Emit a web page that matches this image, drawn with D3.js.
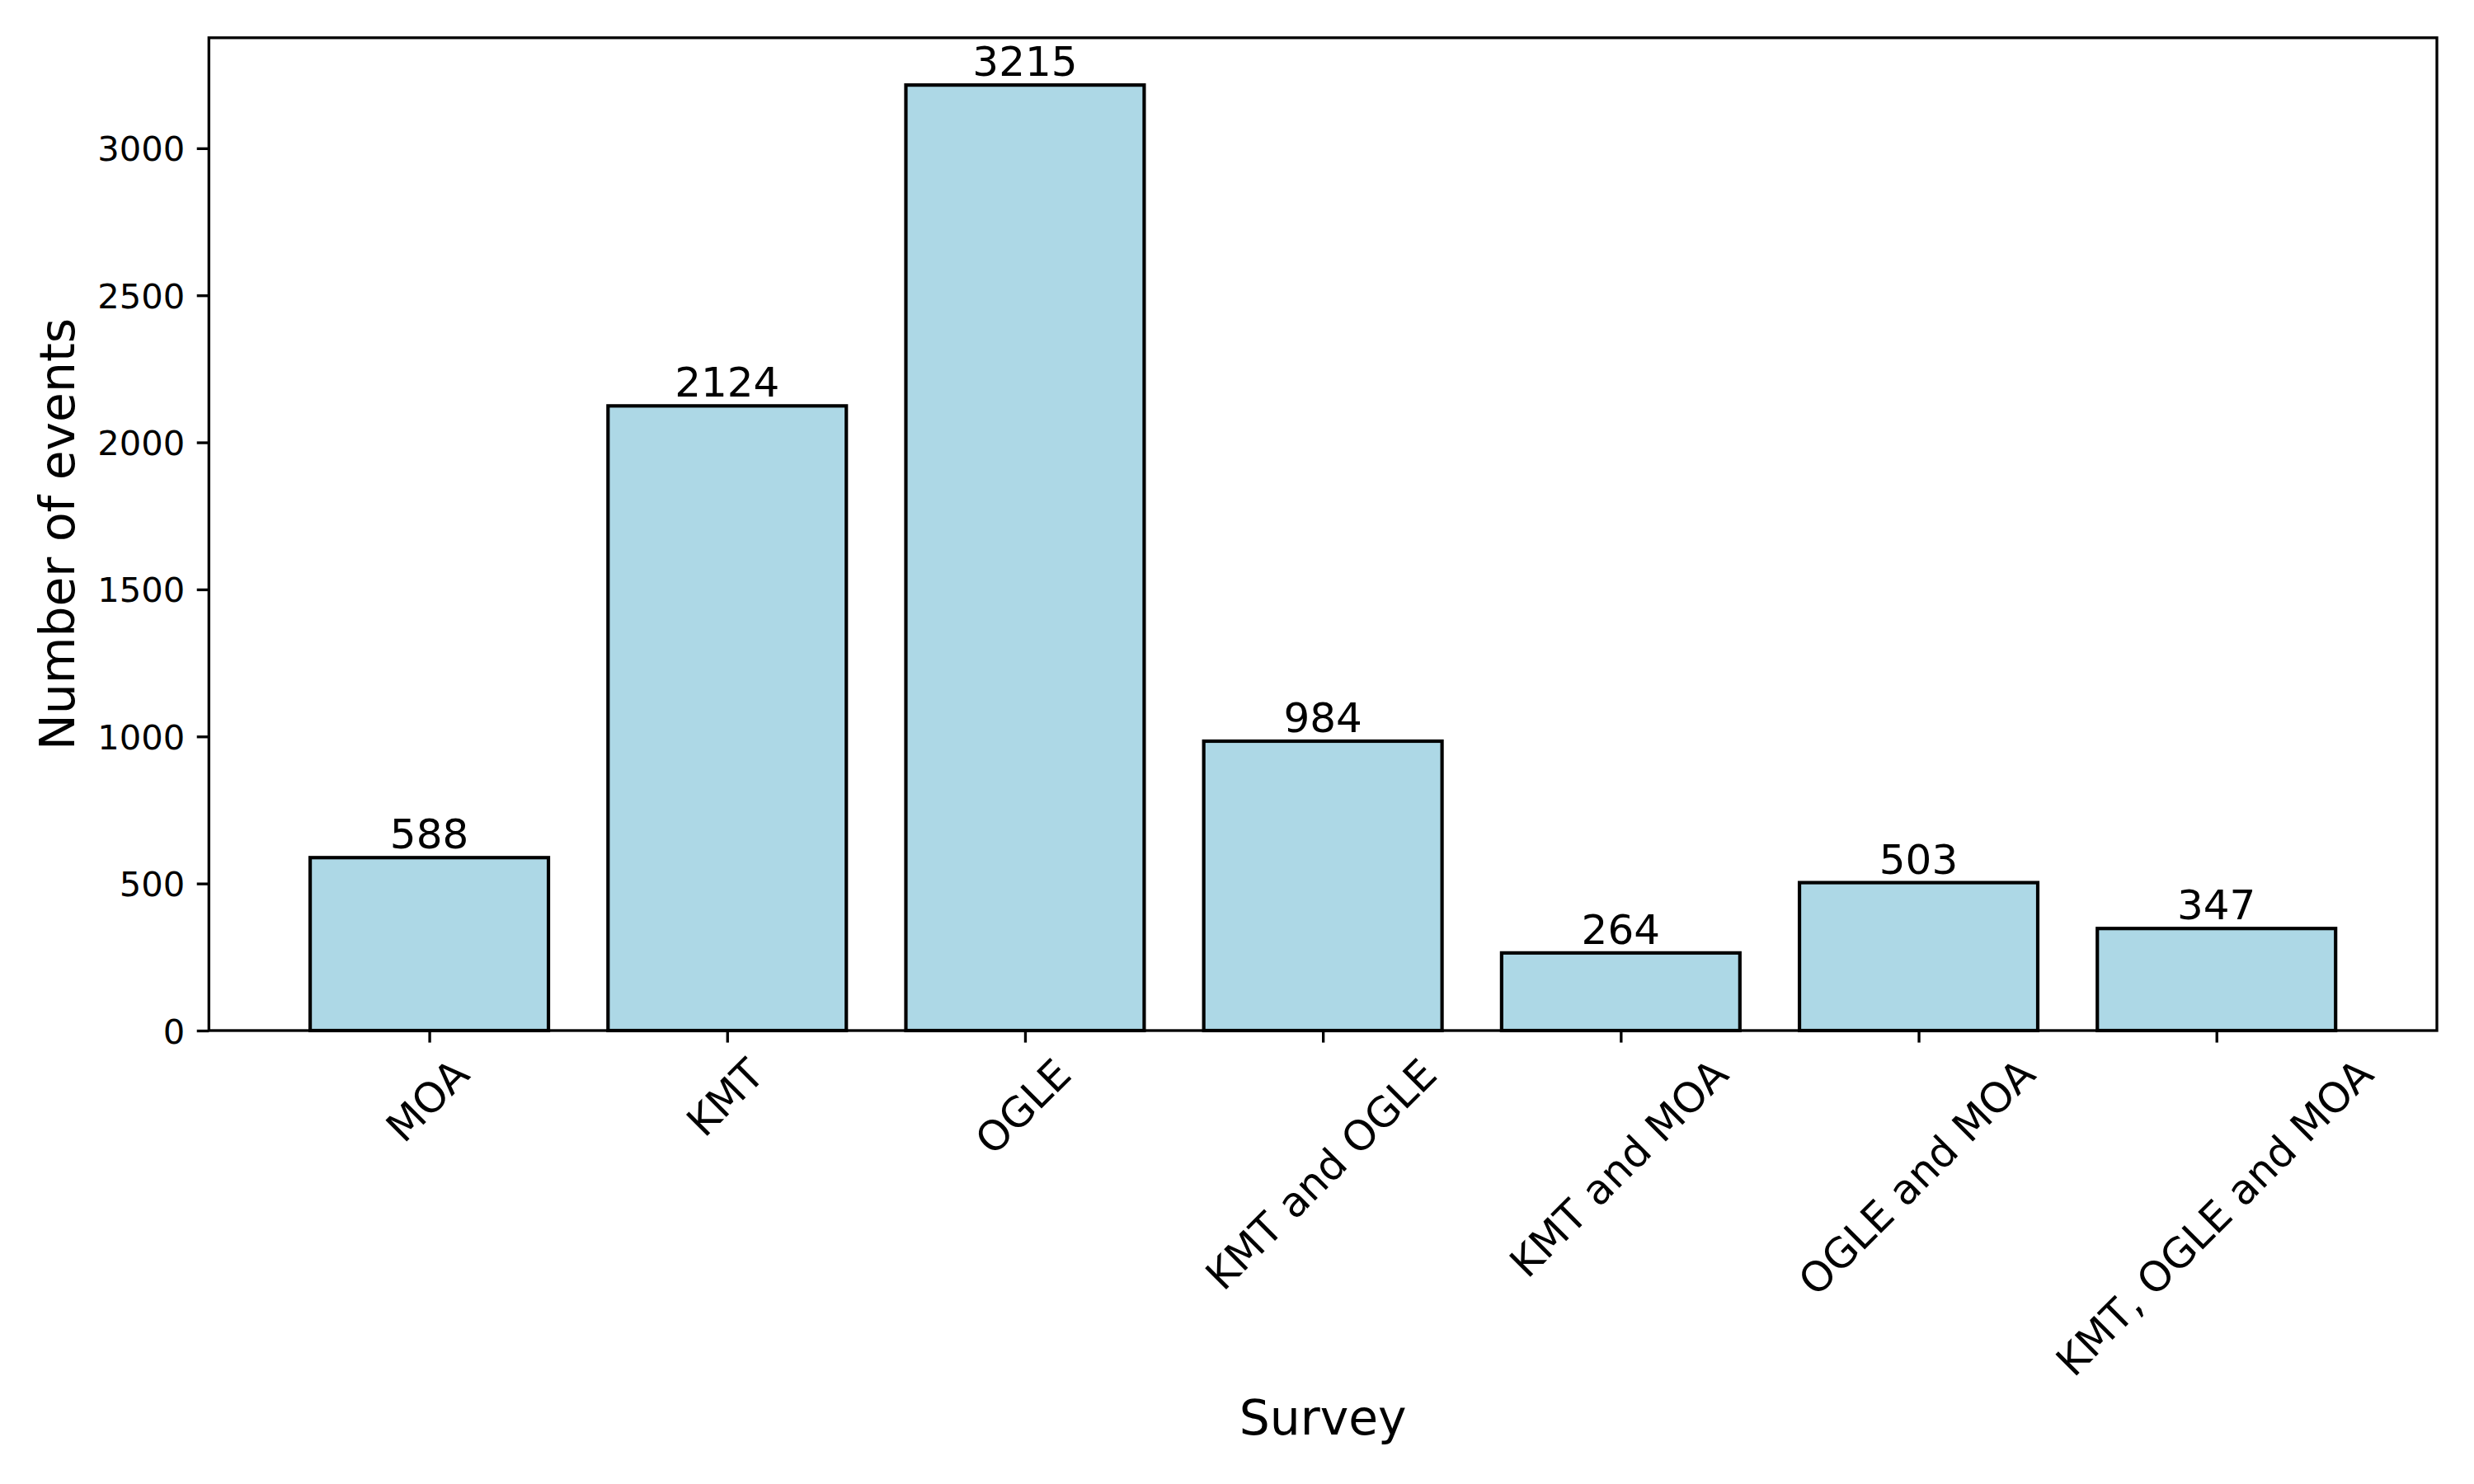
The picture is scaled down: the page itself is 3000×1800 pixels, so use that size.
<!DOCTYPE html>
<html><head><meta charset="utf-8">
<script src="https://cdn.jsdelivr.net/npm/d3@7"></script>
<style>
body{margin:0;background:#fff}
text{font-family:"DejaVu Sans",sans-serif;fill:#000}
</style>
</head><body><svg id="chart" width="3000" height="1800"></svg>
<script>
// ---- data ----
const categories = ["MOA", "KMT", "OGLE", "KMT and OGLE", "KMT and MOA", "OGLE and MOA", "KMT, OGLE and MOA"];
const values = [588, 2124, 3215, 984, 264, 503, 347];
const yTickValues = [0, 500, 1000, 1500, 2000, 2500, 3000];
const xAxisLabel = "Survey";
const yAxisLabel = "Number of events";

// ---- layout ----
const W = 3000, H = 1800;
const pt = 300 / 72;
const plot = {left: 253.3, right: 2955, top: 45.8, bottom: 1250};
const FONT = '"DejaVu Sans", sans-serif';

const svg = d3.select("#chart");
svg.append("rect").attr("width", W).attr("height", H).attr("fill", "#fff");

const barW = 0.8;
const lo = -barW / 2, hi = categories.length - 1 + barW / 2, m = 0.05 * (hi - lo);
const x = d3.scaleLinear().domain([lo - m, hi + m]).range([plot.left, plot.right]);
const y = d3.scaleLinear().domain([0, d3.max(values) * 1.05]).range([plot.bottom, plot.top]);

// bars
svg.append("g").selectAll("rect").data(values).join("rect")
  .attr("x", (d, i) => x(i - barW / 2))
  .attr("width", (d, i) => x(i + barW / 2) - x(i - barW / 2))
  .attr("y", d => y(d))
  .attr("height", d => y(0) - y(d))
  .attr("fill", "#add8e6")
  .attr("stroke", "#000")
  .attr("stroke-width", 1 * pt)
  .attr("stroke-linejoin", "miter");

// bar value labels
svg.append("g").selectAll("text").data(values).join("text")
  .attr("x", (d, i) => x(i))
  .attr("y", d => y(d) - 0.22 * 12 * pt)
  .attr("text-anchor", "middle")
  .attr("font-family", FONT)
  .attr("font-size", 12 * pt)
  .text(d => d);

// y axis
const gy = svg.append("g")
  .attr("transform", `translate(${plot.left},0)`)
  .call(d3.axisLeft(y).tickValues(yTickValues).tickFormat(d3.format("d"))
        .tickSize(3.5 * pt).tickPadding(3.5 * pt))
  .attr("font-family", FONT)
  .attr("font-size", 10 * pt);
gy.select(".domain").remove();
gy.selectAll(".tick line").attr("stroke", "#000").attr("stroke-width", 0.8 * pt);
gy.selectAll(".tick text").attr("dy", "0.36em").attr("fill", "#000");

// x axis
const fsX = 12 * pt;
const gx = svg.append("g")
  .attr("transform", `translate(0,${plot.bottom})`)
  .attr("font-family", FONT)
  .attr("font-size", fsX)
  .call(d3.axisBottom(x).tickValues(d3.range(categories.length)).tickFormat(i => categories[i])
        .tickSize(3.5 * pt).tickPadding(0))
  .attr("font-family", FONT)
  .attr("font-size", fsX);
gx.select(".domain").remove();
gx.selectAll(".tick line").attr("stroke", "#000").attr("stroke-width", 0.8 * pt);
gx.selectAll(".tick text").each(function () {
  const t = d3.select(this);
  t.attr("y", 0).attr("dy", null).attr("text-anchor", "middle").attr("fill", "#000");
  const w = this.getComputedTextLength();
  const h = 0.98 * fsX;
  const top = 7 * pt;
  const cy = top + (w + h) / (2 * Math.SQRT2);
  t.attr("transform", `translate(0,${cy}) rotate(-45)`).attr("dy", 0.27 * fsX);
});

// spines
svg.append("rect")
  .attr("x", plot.left).attr("y", plot.top)
  .attr("width", plot.right - plot.left).attr("height", plot.bottom - plot.top)
  .attr("fill", "none").attr("stroke", "#000").attr("stroke-width", 0.8 * pt)
  .attr("stroke-linejoin", "miter");

// axis labels
svg.append("text")
  .attr("x", (plot.left + plot.right) / 2).attr("y", 1740)
  .attr("text-anchor", "middle").attr("font-family", FONT).attr("font-size", 14 * pt)
  .text(xAxisLabel);
svg.append("text")
  .attr("transform", `translate(89.5,${(plot.top + plot.bottom) / 2}) rotate(-90)`)
  .attr("text-anchor", "middle").attr("font-family", FONT).attr("font-size", 14 * pt)
  .text(yAxisLabel);
</script>
</body></html>
